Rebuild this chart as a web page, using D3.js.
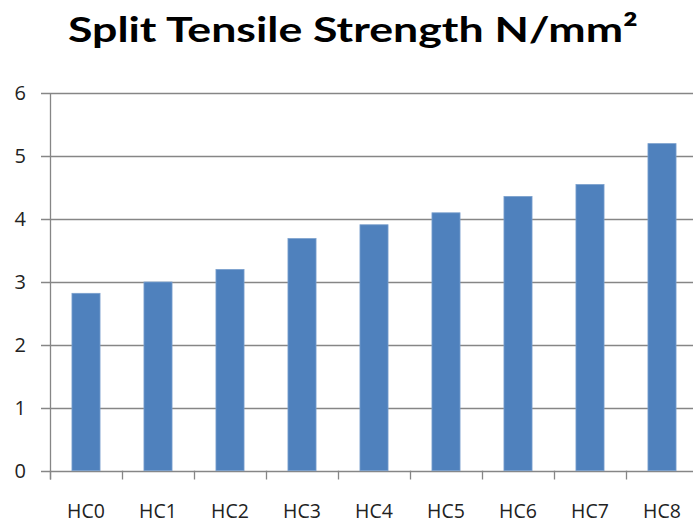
<!DOCTYPE html>
<html><head><meta charset="utf-8">
<script src="https://cdn.jsdelivr.net/npm/d3@7"></script>
<style>body{margin:0;background:#fff}svg{display:block}</style>
</head><body>
<svg id="c" width="693" height="524"></svg>
<script>
const categories = ["HC0","HC1","HC2","HC3","HC4","HC5","HC6","HC7","HC8"];
const values = [2.82, 3.0, 3.2, 3.69, 3.91, 4.1, 4.36, 4.55, 5.2];
const yTicks = [0,1,2,3,4,5,6];
const titleText = "Split Tensile Strength N/mm²";

const svg = d3.select("#c");
svg.append("rect").attr("width",693).attr("height",524).attr("fill","#fff");
const x = d3.scaleBand().domain(categories).range([50, 698]).paddingInner(0.61).paddingOuter(0.305);
const y = d3.scaleLinear().domain([0,6]).range([470.7, 93.3]);
const grid = "#868686";

// gridlines
svg.append("g").selectAll("line").data(yTicks).join("line")
  .attr("x1",41).attr("x2",700)
  .attr("y1",d=>Math.round(y(d))+0.5).attr("y2",d=>Math.round(y(d))+0.5)
  .attr("stroke",grid).attr("stroke-width",1.3);

// y axis line
svg.append("line").attr("x1",50.5).attr("x2",50.5).attr("y1",y(6)).attr("y2",479.5)
  .attr("stroke",grid).attr("stroke-width",1.3);

// x tick marks at band boundaries
const bounds = categories.map(c => x(c) - (x.step()-x.bandwidth())/2);
svg.append("g").selectAll("line").data(bounds).join("line")
  .attr("x1",d=>Math.round(d)+0.5).attr("x2",d=>Math.round(d)+0.5)
  .attr("y1",y(0)).attr("y2",479.5).attr("stroke",grid).attr("stroke-width",1.3);

// bars
svg.append("g").selectAll("rect").data(values).join("rect")
  .attr("x",(d,i)=>x(categories[i]))
  .attr("width",x.bandwidth())
  .attr("y",d=>y(d))
  .attr("height",d=>y(0)-y(d))
  .attr("fill","#4F81BD")
  .attr("stroke","#7BA0CD").attr("stroke-width",0.8);

// y labels
svg.append("g").selectAll("text").data(yTicks).join("text")
  .attr("x",26).attr("y",d=>y(d)).attr("dy","0.35em")
  .attr("text-anchor","end")
  .attr("font-family","Open Sans, sans-serif").attr("font-size",20).attr("fill","#222")
  .text(d=>d);

// x labels
svg.append("g").selectAll("text").data(categories).join("text")
  .attr("x",d=>x(d)+x.bandwidth()/2).attr("y",518)
  .attr("text-anchor","middle")
  .attr("font-family","Open Sans, sans-serif").attr("font-size",19.5).attr("fill","#222")
  .text(d=>d);

// title
svg.append("text").attr("x",353).attr("y",42).attr("text-anchor","middle")
  .attr("font-family","Lato, sans-serif").attr("font-weight","bold").attr("font-size",35)
  .attr("textLength",570).attr("lengthAdjust","spacingAndGlyphs")
  .attr("fill","#000").text(titleText);
</script>
</body></html>
